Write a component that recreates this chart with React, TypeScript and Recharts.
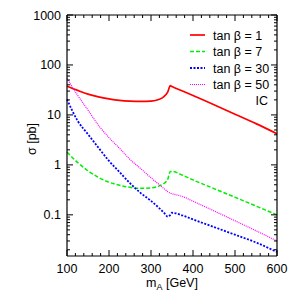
import { LineChart, Line, XAxis, YAxis } from "recharts";

const massGeV = [100, 125, 150, 175, 200, 225, 250, 275, 300, 320, 330, 340, 346, 350, 375, 400, 450, 500, 550, 600];
const sigmaTanB1 = [37.5, 31, 26, 23, 21, 19.6, 18.9, 18.6, 18.8, 20.5, 23, 29, 38.5, 37, 30, 24.5, 16, 10.3, 6.7, 4.2];
const sigmaTanB7 = [1.8, 1.12, 0.76, 0.56, 0.45, 0.39, 0.355, 0.34, 0.345, 0.38, 0.42, 0.52, 0.74, 0.74, 0.62, 0.5, 0.335, 0.225, 0.15, 0.1];
const sigmaTanB30 = [20.5, 7.7, 4.1, 2.2, 1.2, 0.72, 0.43, 0.275, 0.19, 0.135, 0.112, 0.092, 0.1, 0.11, 0.097, 0.081, 0.057, 0.04, 0.028, 0.018];
const sigmaTanB50 = [54, 25, 12.5, 6.2, 3.5, 2.15, 1.28, 0.85, 0.55, 0.4, 0.34, 0.29, 0.272, 0.265, 0.233, 0.187, 0.12, 0.076, 0.048, 0.03];

const seriesLabels = ["tan β = 1", "tan β = 7", "tan β = 30", "tan β = 50"];
const regionLabel = "IC";
const xMajorTicks = [100, 200, 300, 400, 500, 600];
const yMajorTicks = [0.1, 1, 10, 100, 1000];

const FONT = "'Liberation Sans', Arial, sans-serif";
const W = 300;
const H = 294;

const series = [
  { key: "tb1", color: "#ff0000", dash: undefined, width: 1.7 },
  { key: "tb7", color: "#00ee00", dash: "4 2", width: 1.5 },
  { key: "tb30", color: "#0000ff", dash: "2 1.5", width: 1.8 },
  { key: "tb50", color: "#ff00ff", dash: "1 1", width: 1.2 },
];

const data = massGeV.map((m, i) => ({
  m,
  tb1: sigmaTanB1[i],
  tb7: sigmaTanB7[i],
  tb30: sigmaTanB30[i],
  tb50: sigmaTanB50[i],
}));

// minor ticks: every 20 GeV, and 2..9 inside each decade
const xAllTicks: number[] = [];
for (let v = 100; v <= 600; v += 20) xAllTicks.push(v);
const yAllTicks: number[] = [];
for (const d of [0.01, 0.1, 1, 10, 100]) {
  for (let k = 1; k <= 9; k++) {
    const v = +(d * k).toPrecision(3);
    if (v >= 0.015 && v <= 1000) yAllTicks.push(v);
  }
}
yAllTicks.push(1000);

const isMajor = (list: number[], v: number) => list.some((t) => Math.abs(t - v) < 1e-9);

function LeftTick({ x, y, payload }: any) {
  const major = isMajor(yMajorTicks, payload.value);
  return (
    <g>
      <line x1={x} x2={x + (major ? 6 : 3)} y1={y} y2={y} stroke="#000" />
      {major && (
        <text x={x - 6} y={y} dy={4.5} textAnchor="end" fontSize={12.5} fontFamily={FONT} fill="#000">
          {payload.value}
        </text>
      )}
    </g>
  );
}

function RightTick({ x, y, payload }: any) {
  const major = isMajor(yMajorTicks, payload.value);
  return <line x1={x} x2={x - (major ? 6 : 3)} y1={y} y2={y} stroke="#000" />;
}

function BottomTick({ x, y, payload }: any) {
  const major = isMajor(xMajorTicks, payload.value);
  return (
    <g>
      <line x1={x} x2={x} y1={y} y2={y - (major ? 6 : 3)} stroke="#000" />
      {major && (
        <text x={x} y={y + 17} textAnchor="middle" fontSize={12.5} fontFamily={FONT} fill="#000">
          {payload.value}
        </text>
      )}
    </g>
  );
}

function TopTick({ x, y, payload }: any) {
  const major = isMajor(xMajorTicks, payload.value);
  return <line x1={x} x2={x} y1={y} y2={y + (major ? 6 : 3)} stroke="#000" />;
}

export default function App() {
  return (
    <div style={{ position: "absolute", left: 0, top: 0, width: W, height: H, background: "#fff" }}>
      <LineChart width={W} height={H} data={data} margin={{ top: 14, right: 22, bottom: 0, left: 0 }}>
        <XAxis
          xAxisId="bottom"
          dataKey="m"
          type="number"
          domain={[100, 600]}
          ticks={xAllTicks}
          interval={0}
          height={38}
          tickSize={0}
          tickMargin={0}
          tickLine={false}
          tick={<BottomTick />}
          axisLine={{ stroke: "#000", strokeWidth: 1.2 }}
        />
        <XAxis
          xAxisId="top"
          orientation="top"
          dataKey="m"
          type="number"
          domain={[100, 600]}
          ticks={xAllTicks}
          interval={0}
          height={1}
          tickSize={0}
          tickMargin={0}
          tickLine={false}
          tick={<TopTick />}
          axisLine={{ stroke: "#000", strokeWidth: 1.2 }}
        />
        <YAxis
          yAxisId="left"
          type="number"
          scale="log"
          domain={[0.015, 1000]}
          allowDataOverflow
          ticks={yAllTicks}
          interval={0}
          width={67}
          tickSize={0}
          tickMargin={0}
          tickLine={false}
          tick={<LeftTick />}
          axisLine={{ stroke: "#000", strokeWidth: 1.2 }}
        />
        <YAxis
          yAxisId="right"
          orientation="right"
          type="number"
          scale="log"
          domain={[0.015, 1000]}
          allowDataOverflow
          ticks={yAllTicks}
          interval={0}
          width={1}
          tickSize={0}
          tickMargin={0}
          tickLine={false}
          tick={<RightTick />}
          axisLine={{ stroke: "#000", strokeWidth: 1.2 }}
        />
        {series.map((s) => (
          <Line
            key={s.key}
            xAxisId="bottom"
            yAxisId="left"
            dataKey={s.key}
            type="monotone"
            stroke={s.color}
            strokeWidth={s.width}
            strokeDasharray={s.dash}
            dot={false}
            activeDot={false}
            isAnimationActive={false}
          />
        ))}
      </LineChart>
      <svg
        width={W}
        height={H}
        style={{ position: "absolute", left: 0, top: 0, pointerEvents: "none" }}
        fontFamily={FONT}
        fontSize={12.5}
      >
        {seriesLabels.map((label, i) => (
          <g key={label}>
            <line
              x1={190}
              x2={205}
              y1={35 + i * 16.5}
              y2={35 + i * 16.5}
              stroke={series[i].color}
              strokeWidth={series[i].width}
              strokeDasharray={series[i].dash}
            />
            <text x={213} y={39.5 + i * 16.5} fill="#000">
              {label}
            </text>
          </g>
        ))}
        <text x={268} y={104.5} textAnchor="end" fill="#000">
          {regionLabel}
        </text>
        <text transform="translate(36,139) rotate(-90)" textAnchor="middle" fill="#000">
          σ [pb]
        </text>
        <text x={172} y={287} textAnchor="middle" fill="#000">
          m
          <tspan fontSize={9} dy={3}>A</tspan>
          <tspan dy={-3}> [GeV]</tspan>
        </text>
      </svg>
    </div>
  );
}
